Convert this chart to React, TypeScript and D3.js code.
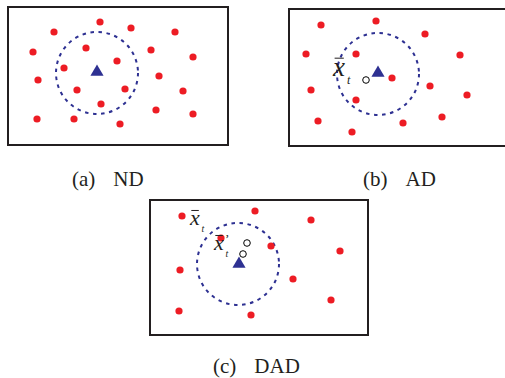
import React from "react";
import { scaleLinear, symbol, symbolTriangle } from "d3";

// panel boxes (page px): x, y, width, height
const panelNames = ["a", "b", "c"];
const panelBoxes = [
  [8, 7, 220, 138],
  [289, 9, 240, 137],
  [150, 200, 218, 135],
];
const captionTags = ["(a)", "(b)", "(c)"];
const captionNames = ["ND", "AD", "DAD"];

// red individuals, in box-relative units
const pointsA = [
  [92, 15], [123, 21], [46, 25], [167, 25], [25, 45], [78, 41], [143, 43],
  [185, 50], [109, 54], [56, 61], [151, 69], [30, 73], [69, 83], [117, 82],
  [175, 84], [93, 97], [148, 103], [29, 112], [66, 112], [112, 117], [185, 107],
];
const pointsB = [
  [32, 16], [87, 12], [136, 25], [17, 45], [67, 45], [171, 46], [103, 69],
  [22, 81], [141, 77], [178, 86], [67, 91], [29, 112], [153, 108], [114, 114],
  [63, 123],
];
const pointsC = [
  [32, 16], [105, 11], [161, 20], [71, 38], [121, 46], [190, 51], [30, 70],
  [143, 79], [181, 100], [29, 111], [101, 115],
];

// best individual (triangle) and neighbourhood circle
const bestPos = [[89, 65], [89, 64], [89, 64]];
const circleCenter = [[89, 66], [89, 65], [88, 64]];
const circleRadius = 41;

// open circles: mean points
const meanPoints = [[], [[77, 71]], [[97, 43], [93, 54]]];

// x-bar labels: [x, baseline, prime?, fontSize]
const labelsB = [[44, 67, false, 27]];
const labelsC = [[40, 25, false, 22], [64, 50, true, 22]];

const allPoints = [pointsA, pointsB, pointsC];
const allLabels = [[], labelsB, labelsC];

const RED = "#ed1c24";
const BLUE = "#2e3192";
const INK = "#231f20";
const SERIF = "'Liberation Serif', 'Times New Roman', serif";

const Panel = ({ i }: { i: number }) => {
  const [bx, by, bw, bh] = panelBoxes[i];
  const x = scaleLinear().domain([0, bw]).range([bx, bx + bw]);
  const y = scaleLinear().domain([0, bh]).range([by, by + bh]);
  const tri = symbol().type(symbolTriangle).size(75)();
  const [tx, ty] = bestPos[i];
  const [cx, cy] = circleCenter[i];
  return (
    <g>
      <rect x={x(0)} y={y(0)} width={x(bw) - x(0)} height={y(bh) - y(0)} fill="none" stroke={INK} strokeWidth={2} />
      <circle cx={x(cx)} cy={y(cy)} r={circleRadius} fill="none" stroke={BLUE} strokeWidth={2} strokeDasharray="3.5 4.6" />
      {allPoints[i].map((p, k) => (
        <circle key={k} cx={x(p[0])} cy={y(p[1])} r={3.6} fill={RED} />
      ))}
      <path d={tri!} transform={`translate(${x(tx)},${y(ty)})`} fill={BLUE} />
      {meanPoints[i].map((p, k) => (
        <circle key={k} cx={x(p[0])} cy={y(p[1])} r={3.3} fill="#fff" stroke="#000" strokeWidth={1} />
      ))}
      {allLabels[i].map((l, k) => {
        const [lx, ly, prime, fs] = l as [number, number, boolean, number];
        const px = x(lx);
        const py = y(ly);
        return (
          <g key={k} fontFamily={SERIF} fontStyle="italic" fill={INK}>
            <line x1={px + fs * 0.06} x2={px + fs * 0.4} y1={py - fs * 0.66} y2={py - fs * 0.66} stroke={INK} strokeWidth={1} />
            <text x={px} y={py} fontSize={fs}>x</text>
            <text x={px + fs * 0.52} y={py + fs * 0.3} fontSize={fs * 0.45}>t</text>
            {prime && <text x={px + fs * 0.5} y={py - fs * 0.3} fontSize={fs * 0.6} fontStyle="normal">’</text>}
          </g>
        );
      })}
    </g>
  );
};

const captionPos = [[72, 186], [363, 186], [213, 373]];

export default function App() {
  return (
    <svg width={505} height={378} style={{ position: "absolute", left: 0, top: 0, background: "#fff" }}>
      {panelNames.map((n, i) => (
        <Panel key={n} i={i} />
      ))}
      {captionTags.map((c, i) => (
        <text key={i} x={captionPos[i][0]} y={captionPos[i][1]} fontFamily={SERIF} fontSize={21} fill={INK}>
          <tspan>{c}</tspan>
          <tspan dx={18}>{captionNames[i]}</tspan>
        </text>
      ))}
    </svg>
  );
}
